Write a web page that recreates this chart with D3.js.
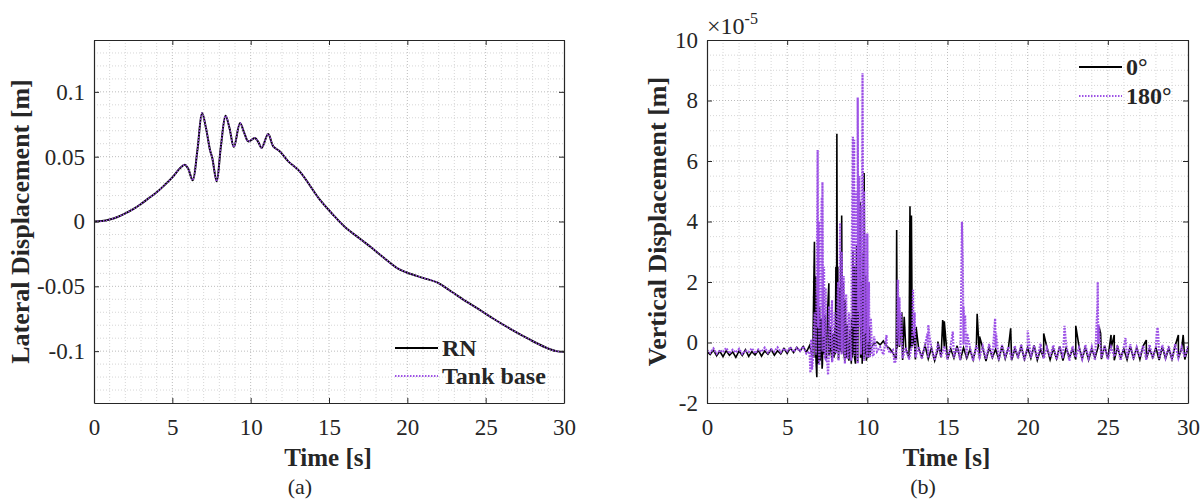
<!DOCTYPE html>
<html>
<head>
<meta charset="utf-8">
<script src="https://cdn.jsdelivr.net/npm/d3@7"></script>
<style>
  body { margin: 0; background: #fff; }
  svg text { font-family: "Liberation Serif", "Times New Roman", serif; fill: #262626; }
</style>
</head>
<body>
<div id="chart"></div>
<script>
// (a) lateral displacement
var lateralTime = [0, 0.5, 1, 1.5, 2, 2.5, 3, 3.5, 4, 4.5, 5, 5.5, 5.8, 6.0, 6.3, 6.6, 6.9, 7.15, 7.4, 7.55, 7.83, 8.1, 8.4, 8.65, 8.93, 9.32, 9.6, 9.85, 10.27, 10.5, 10.7, 11.12, 11.44, 11.87, 12.4, 13.1, 14.4, 15.2, 16, 17, 17.7, 18.5, 19.3, 20, 21, 21.9, 22.8, 23.8, 24.6, 25.5, 26.6, 27.8, 28.8, 29.5, 30];
var lateralRN = [0, 0.0003, 0.0015, 0.0035, 0.0062, 0.0095, 0.0135, 0.018, 0.0225, 0.028, 0.034, 0.0413, 0.0438, 0.041, 0.0318, 0.055, 0.0836, 0.072, 0.0554, 0.049, 0.031, 0.058, 0.0815, 0.072, 0.0574, 0.0759, 0.068, 0.0618, 0.0644, 0.061, 0.0567, 0.0674, 0.058, 0.054, 0.0464, 0.039, 0.017, 0.006, -0.004, -0.0135, -0.02, -0.028, -0.0355, -0.0395, -0.0435, -0.047, -0.054, -0.062, -0.068, -0.075, -0.083, -0.091, -0.097, -0.1, -0.1005];
var lateralTankBase = [0, 0.0003, 0.0015, 0.0035, 0.0062, 0.0095, 0.0135, 0.018, 0.0225, 0.028, 0.034, 0.0413, 0.0438, 0.041, 0.0318, 0.055, 0.0836, 0.072, 0.0554, 0.049, 0.031, 0.058, 0.0815, 0.072, 0.0574, 0.0759, 0.068, 0.0618, 0.0644, 0.061, 0.0567, 0.0674, 0.058, 0.054, 0.0464, 0.039, 0.017, 0.006, -0.004, -0.0135, -0.02, -0.028, -0.0355, -0.0395, -0.0435, -0.047, -0.054, -0.062, -0.068, -0.075, -0.083, -0.091, -0.097, -0.1, -0.1005];

// (b) vertical displacement (x1e-5 m): baseline every 0.2 s plus spikes
var baseStep = 0.2;
var base0 = [
  -0.30,-0.40,-0.25,-0.44,-0.29,-0.47,-0.27,-0.42,-0.31,-0.49,-0.28,-0.43,-0.24,-0.46,-0.30,-0.41,-0.26,-0.45,-0.28,-0.39,-0.23,-0.42,-0.27,-0.38,-0.20,-0.36,-0.18,-0.33,-0.16,-0.29,-0.13,-0.32,-0.10,
  -0.50,-0.60,-0.40,-0.70,-0.50,-0.45,-0.60,-0.40,-0.55,-0.35,-0.60,-0.45,-0.70,-0.50,-0.65,-0.40,-0.55,-0.30,-0.20,-0.05,
  0.02,-0.08,0.05,-0.12,-0.20,-0.35,
  -0.55,-0.15,-0.58,-0.22,-0.50,-0.12,-0.56,-0.20,-0.48,-0.10,
  -0.54,-0.18,-0.60,-0.22,-0.49,-0.14,-0.55,-0.21,-0.51,-0.11,
  -0.58,-0.17,-0.52,-0.23,-0.57,-0.13,-0.53,-0.19,-0.61,-0.16,
  -0.50,-0.22,-0.56,-0.12,-0.54,-0.18,-0.59,-0.21,-0.48,-0.14,
  -0.55,-0.17,-0.52,-0.10,-0.58,-0.23,-0.51,-0.16,-0.57,-0.20,
  -0.53,-0.13,-0.60,-0.18,-0.49,-0.22,-0.56,-0.12,-0.54,-0.17,
  -0.58,-0.21,-0.51,-0.14,-0.55,-0.11,-0.53,-0.19,-0.59,-0.16,
  -0.50,-0.22,-0.57,-0.13,-0.52,-0.18,-0.56,-0.12,-0.54,-0.21,
  -0.49,-0.17,-0.58,-0.14,-0.53,-0.19,-0.55,-0.11,-0.51,-0.22,
  -0.56,-0.18
];
var base180 = [
  -0.25,-0.34,-0.20,-0.37,-0.26,-0.32,-0.18,-0.36,-0.24,-0.33,-0.21,-0.38,-0.27,-0.31,-0.19,-0.35,-0.23,-0.31,-0.17,-0.34,-0.22,-0.30,-0.16,-0.32,-0.20,-0.29,-0.15,-0.31,-0.18,-0.28,-0.13,-0.37,-0.30,
  -0.60,-0.40,-0.75,-0.30,-0.55,-0.45,-0.65,-0.35,-0.60,-0.40,-0.70,-0.50,-0.60,-0.45,-0.70,-0.40,-0.60,-0.50,-0.35,-0.45,
  -0.30,-0.15,-0.40,-0.10,-0.35,-0.25,
  -0.58,-0.10,-0.52,-0.16,-0.56,-0.06,-0.49,-0.14,-0.54,-0.08,
  -0.51,-0.18,-0.59,-0.04,-0.48,-0.12,-0.55,-0.10,-0.50,-0.16,
  -0.57,-0.07,-0.53,-0.15,-0.60,-0.09,-0.49,-0.13,-0.54,-0.05,
  -0.52,-0.17,-0.58,-0.08,-0.47,-0.14,-0.56,-0.11,-0.51,-0.06,
  -0.59,-0.15,-0.50,-0.10,-0.55,-0.04,-0.53,-0.16,-0.48,-0.09,
  -0.57,-0.13,-0.52,-0.07,-0.60,-0.12,-0.49,-0.17,-0.54,-0.08,
  -0.51,-0.14,-0.58,-0.05,-0.50,-0.11,-0.56,-0.15,-0.47,-0.09,
  -0.59,-0.13,-0.53,-0.06,-0.55,-0.16,-0.48,-0.10,-0.57,-0.07,
  -0.52,-0.14,-0.54,-0.08,-0.50,-0.12,-0.58,-0.05,-0.51,-0.15,
  -0.49,-0.11
];
var spikes0 = [
  [6.65,1.5],[6.7,3.33],[6.75,-0.5],[6.78,2.2],[6.85,-1.15],[6.9,1.6],[6.95,-0.7],[7.02,1.2],[7.06,-0.6],[7.12,0.8],[7.18,-0.87],[7.24,1.3],[7.3,-0.4],[7.37,0.9],[7.45,-0.5],[7.52,1.0],[7.6,1.96],[7.64,-0.3],[7.7,0.5],[7.76,-0.4],[7.85,0.3],[7.92,-0.5],
  [7.98,0.5],[8.04,2.5],[8.08,-0.3],[8.1,6.9],[8.13,-0.2],[8.16,2.5],[8.21,-0.4],[8.26,1.8],[8.3,-0.3],[8.35,3.0],[8.4,4.2],[8.44,-0.2],[8.5,2.0],[8.55,-0.4],[8.62,1.4],[8.68,-0.5],[8.75,0.6],[8.85,-0.6],[8.92,0.4],
  [9.02,0.8],[9.06,-0.5],[9.1,3.0],[9.14,-0.4],[9.2,2.5],[9.26,-0.7],[9.33,3.2],[9.38,-0.3],[9.46,2.8],[9.55,4.65],[9.58,-0.5],[9.64,2.0],[9.68,-0.7],[9.74,3.0],[9.8,5.6],[9.84,-0.4],[9.9,2.2],[9.94,-0.6],[10.02,1.0],[10.06,-0.5],[10.12,0.5],[10.18,-0.4],
  [11.83,3.72],[11.86,-0.2],[11.95,1.2],[12.15,1.0],[12.3,0.85],[12.66,4.5],[12.7,-0.2],[12.75,4.2],[12.9,0.3],[13.04,0.52],[14.4,0.03],[14.7,0.74],[14.8,0.7],[16.85,0.95],[17.0,0.2],[18.94,0.47],[21.0,0.3],[23.0,0.55],[24.45,0.52],[24.55,0.3],[25.2,0.25],[25.4,0.25],[27.4,0.08],[29.4,0.25],[29.7,0.25]
];
var spikes180 = [
  [6.42,-0.6],[6.45,-1.0],[6.5,0.1],[6.55,-0.9],[6.72,1.0],[6.8,-0.3],[6.88,4.5],[6.9,6.36],[6.94,0.5],[6.98,4.0],[7.03,-0.2],[7.08,3.0],[7.16,4.8],[7.2,5.3],[7.24,0.2],[7.3,2.5],[7.34,-0.5],[7.4,1.8],[7.46,-0.3],[7.55,-1.07],[7.62,1.2],[7.7,-0.2],[7.8,1.4],[7.88,-0.4],[7.96,1.0],[8.06,-0.3],[8.18,2.0],[8.24,-0.2],[8.3,3.95],[8.34,0.2],[8.4,3.0],[8.46,-0.3],[8.52,2.2],[8.6,-0.2],[8.68,1.6],[8.76,-0.5],[8.86,1.0],[8.95,-0.3],
  [9.03,3.0],[9.1,6.8],[9.13,0.5],[9.18,6.7],[9.23,1.0],[9.28,5.0],[9.33,0.3],[9.4,8.1],[9.44,1.0],[9.5,5.5],[9.54,0.5],[9.6,4.5],[9.64,0.2],[9.7,8.9],[9.74,1.0],[9.8,5.0],[9.84,0.3],[9.9,3.6],[9.94,-0.2],[10.0,3.6],[10.04,0.0],[10.1,2.0],[10.14,-0.5],[10.22,0.8],[10.3,-0.4],[10.42,0.2],
  [11.2,0.25],[11.7,-0.68],[11.88,1.2],[11.9,2.07],[11.94,0.3],[12.0,1.5],[12.05,0.2],[12.1,1.0],[12.85,1.74],[12.9,0.2],[12.95,1.0],[13.75,0.3],[13.8,0.58],[13.88,0.2],[15.33,0.36],[15.85,1.5],[15.9,3.99],[15.95,2.8],[16.0,1.2],[16.05,0.6],[16.1,0.9],[16.15,0.0],[16.22,0.3],[17.92,0.4],[17.97,0.8],[18.03,0.3],[20.0,0.4],[22.3,0.55],[24.35,1.2],[24.37,2.0],[24.42,0.6],[26.1,0.15],[28.05,0.3],[28.1,0.5],[28.15,0.2]
];

var timeTicks = [0, 5, 10, 15, 20, 25, 30];
var lateralTicks = [-0.1, -0.05, 0, 0.05, 0.1];
var verticalTicks = [-2, 0, 2, 4, 6, 8, 10];
var legendA = ["RN", "Tank base"];
var legendB = ["0°", "180°"];

var purple = "#9d52e6";
var axisColor = "#262626";

var svg = d3.select("#chart").append("svg").attr("width", 1204).attr("height", 499);

function mergeSeries(base, spikes) {
    var pts = base.map(function (v, i) { return [i * baseStep, v]; }).concat(spikes);
    return pts.sort(function (a, b) { return a[0] - b[0]; });
}

function drawPanel(opt) {
    var g = svg.append("g");
    var x = d3.scaleLinear().domain([0, 30]).range([opt.left, opt.right]);
    var y = d3.scaleLinear().domain(opt.yDomain).range([opt.bottom, opt.top]);

    g.append("rect").attr("x", opt.left).attr("y", opt.top)
        .attr("width", opt.right - opt.left).attr("height", opt.bottom - opt.top)
        .attr("fill", "#fff");

    // minor + major grid, dotted
    var grid = g.append("g").attr("fill", "none");
    d3.range(1, 30).forEach(function (t) {
        grid.append("line").attr("x1", x(t)).attr("x2", x(t)).attr("y1", opt.top).attr("y2", opt.bottom)
            .attr("stroke", t % 5 === 0 ? "#bcbcbc" : "#d6d6d6").attr("stroke-dasharray", "1,2");
    });
    opt.yMinor.forEach(function (v) {
        var major = opt.yTicks.some(function (k) { return Math.abs(k - v) < 1e-9; });
        grid.append("line").attr("x1", opt.left).attr("x2", opt.right).attr("y1", y(v)).attr("y2", y(v))
            .attr("stroke", major ? "#bcbcbc" : "#d6d6d6").attr("stroke-dasharray", "1,2");
    });

    var clipId = "clip" + opt.id;
    svg.append("clipPath").attr("id", clipId).append("rect")
        .attr("x", opt.left).attr("y", opt.top)
        .attr("width", opt.right - opt.left).attr("height", opt.bottom - opt.top);
    var plot = g.append("g").attr("clip-path", "url(#" + clipId + ")");

    var fmt = function (d) { return String(d); };
    var xb = g.append("g").attr("transform", "translate(0," + opt.bottom + ")")
        .call(d3.axisBottom(x).tickValues(timeTicks).tickFormat(fmt).tickSizeInner(-5).tickSizeOuter(0).tickPadding(16));
    var xt = g.append("g").attr("transform", "translate(0," + opt.top + ")")
        .call(d3.axisTop(x).tickValues(timeTicks).tickFormat("").tickSizeInner(-5).tickSizeOuter(0));
    var yl = g.append("g").attr("transform", "translate(" + opt.left + ",0)")
        .call(d3.axisLeft(y).tickValues(opt.yTicks).tickFormat(fmt).tickSizeInner(-5).tickSizeOuter(0).tickPadding(9));
    var yr = g.append("g").attr("transform", "translate(" + opt.right + ",0)")
        .call(d3.axisRight(y).tickValues(opt.yTicks).tickFormat("").tickSizeInner(-5).tickSizeOuter(0));
    [xb, xt, yl, yr].forEach(function (a) {
        a.select(".domain").attr("stroke", axisColor).attr("stroke-width", 1.2);
        a.selectAll(".tick line").attr("stroke", axisColor);
        a.selectAll("text").attr("font-size", 23).attr("font-family", "Liberation Serif").attr("fill", axisColor);
    });

    g.append("text").attr("x", (opt.left + opt.right) / 2 - 1).attr("y", 466)
        .attr("text-anchor", "middle").attr("font-size", 25).attr("font-weight", "bold").text("Time [s]");
    g.append("text").attr("transform", "translate(" + opt.yLabelX + "," + ((opt.top + opt.bottom) / 2) + ") rotate(-90)")
        .attr("text-anchor", "middle").attr("dominant-baseline", "central")
        .attr("font-size", 26).attr("font-weight", "bold").text(opt.yLabel);
    g.append("text").attr("x", opt.tagX).attr("y", 494).attr("text-anchor", "middle")
        .attr("font-size", 22).text(opt.tag);

    return { x: x, y: y, plot: plot, g: g };
}

function legend(g, names, x0, y0, gap) {
    names.forEach(function (name, i) {
        var yy = y0 + i * gap;
        var ln = g.append("line").attr("x1", x0).attr("x2", x0 + 43).attr("y1", yy).attr("y2", yy)
            .attr("stroke-width", 2);
        if (i === 0) ln.attr("stroke", "#000");
        else ln.attr("stroke", purple).attr("stroke-dasharray", "1.5,1.5");
        g.append("text").attr("x", x0 + 47).attr("y", yy).attr("dominant-baseline", "central")
            .attr("font-size", 24).attr("font-weight", "bold").attr("fill", "#000").text(name);
    });
}

// ---- panel (a)
var pa = drawPanel({
    id: "a", left: 94, right: 564, top: 40, bottom: 403,
    yDomain: [-0.14, 0.14], yTicks: lateralTicks,
    yMinor: d3.range(-13, 14).map(function (i) { return i / 100; }),
    yLabel: "Lateral Displacement [m]", yLabelX: 20, tag: "(a)", tagX: 300
});
var lineA = d3.line().curve(d3.curveCatmullRom)
    .x(function (d) { return pa.x(d[0]); }).y(function (d) { return pa.y(d[1]); });
pa.plot.append("path").datum(lateralTime.map(function (t, i) { return [t, lateralRN[i]]; }))
    .attr("d", lineA).attr("fill", "none").attr("stroke", "#000").attr("stroke-width", 2);
pa.plot.append("path").datum(lateralTime.map(function (t, i) { return [t, lateralTankBase[i]]; }))
    .attr("d", lineA).attr("fill", "none").attr("stroke", purple).attr("stroke-width", 1.5)
    .attr("stroke-dasharray", "1.5,1.5");
legend(pa.g, legendA, 395, 348, 28);

// ---- panel (b)
var pb = drawPanel({
    id: "b", left: 707, right: 1188, top: 40, bottom: 403,
    yDomain: [-2, 10], yTicks: verticalTicks,
    yMinor: d3.range(-3, 20).map(function (i) { return i / 2; }),
    yLabel: "Vertical Displacement [m]", yLabelX: 657, tag: "(b)", tagX: 923
});
var lineB = d3.line().x(function (d) { return pb.x(d[0]); }).y(function (d) { return pb.y(d[1]); });
pb.plot.append("path").datum(mergeSeries(base0, spikes0))
    .attr("d", lineB).attr("fill", "none").attr("stroke", "#000").attr("stroke-width", 1.6);
pb.plot.append("path").datum(mergeSeries(base180, spikes180))
    .attr("d", lineB).attr("fill", "none").attr("stroke", purple).attr("stroke-width", 2.2)
    .attr("stroke-dasharray", "1.8,1.2");
legend(pb.g, legendB, 1079, 67, 29);

// exponent label
var expo = pb.g.append("text").attr("x", 707).attr("y", 34).attr("font-size", 24).attr("fill", axisColor);
expo.append("tspan").text("×10");
expo.append("tspan").attr("font-size", 16).attr("dy", -10).text("-5");
</script>
</body>
</html>
